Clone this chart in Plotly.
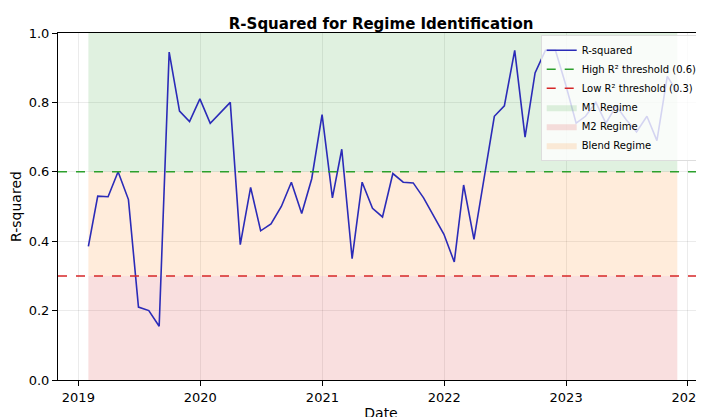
import plotly.graph_objects as go
import pandas as pd

dates = pd.date_range("2019-01-31", periods=59, freq="ME")
r2 = [0.385, 0.53, 0.528, 0.60, 0.52, 0.21, 0.20, 0.155, 0.945, 0.775,
      0.745, 0.81, 0.74, 0.77, 0.80, 0.39, 0.555, 0.43, 0.45, 0.50,
      0.57, 0.48, 0.58, 0.765, 0.525, 0.665, 0.35, 0.57, 0.495, 0.47,
      0.595, 0.57, 0.568, 0.525, 0.475, 0.42, 0.34, 0.562, 0.405, 0.58,
      0.76, 0.79, 0.95, 0.70, 0.885, 0.95, 0.95, 0.85, 0.74, 0.76,
      0.80, 0.74, 0.79, 0.75, 0.715, 0.76, 0.69, 0.875, 0.83]
high_thr = 0.6
low_thr = 0.3
bands = [("M1 Regime", high_thr, 1.0, "rgba(44,160,44,0.15)"),
         ("M2 Regime", 0.0, low_thr, "rgba(214,39,40,0.15)"),
         ("Blend Regime", low_thr, high_thr, "rgba(255,127,14,0.15)")]

fig = go.Figure()
d0, d1 = dates[0], dates[-1]
for name, lo, hi, col in bands:
    fig.add_trace(go.Scatter(x=[d0, d1, d1, d0, d0], y=[lo, lo, hi, hi, lo], fill="toself",
                             fillcolor=col, line=dict(width=0), mode="lines", name=name,
                             hoverinfo="skip", legendrank=10 + len(fig.data)))
fig.add_trace(go.Scatter(x=dates, y=r2, mode="lines", name="R-squared",
                         line=dict(color="#2b2bb8", width=1.6), legendrank=1))
xr = [pd.Timestamp("2018-11-01"), pd.Timestamp("2024-02-18")]
fig.add_trace(go.Scatter(x=xr, y=[high_thr]*2, mode="lines", name="High R² threshold (0.6)",
                         line=dict(color="#2ca02c", dash="dash", width=1.5), legendrank=2))
fig.add_trace(go.Scatter(x=xr, y=[low_thr]*2, mode="lines", name="Low R² threshold (0.3)",
                         line=dict(color="#d62728", dash="dash", width=1.5), legendrank=3))

ax = dict(showline=True, linecolor="black", linewidth=1, mirror=True, ticks="outside",
          tickcolor="black", showgrid=True, gridcolor="rgba(0,0,0,0.08)", zeroline=False,
          automargin=False,
          tickfont=dict(size=13, color="black"), title_font=dict(size=14, color="black"))
fig.update_layout(
    width=704, height=417, plot_bgcolor="white", paper_bgcolor="white",
    font=dict(family="DejaVu Sans", color="black"),
    margin=dict(l=50, r=8, t=25, b=45),
    title=dict(text="<b>R-Squared for Regime Identification</b>", x=0.53, y=0.975,
               xanchor="center", font=dict(size=15)),
    xaxis=dict(range=xr, title=dict(text="Date", standoff=4),
               tickvals=[pd.Timestamp(f"{y}-01-01") for y in range(2019, 2025)],
               ticktext=[str(y) for y in range(2019, 2025)], **ax),
    yaxis=dict(range=[0, 1], title=dict(text="R-squared", standoff=6), dtick=0.2,
               tickformat=".1f", **ax),
    legend=dict(x=0.998, y=0.995, xanchor="right", yanchor="top", font=dict(size=10),
                bgcolor="rgba(255,255,255,0.8)", bordercolor="#ddd", borderwidth=1,
                tracegroupgap=0, itemwidth=30),
)
fig.write_html("out.html")
